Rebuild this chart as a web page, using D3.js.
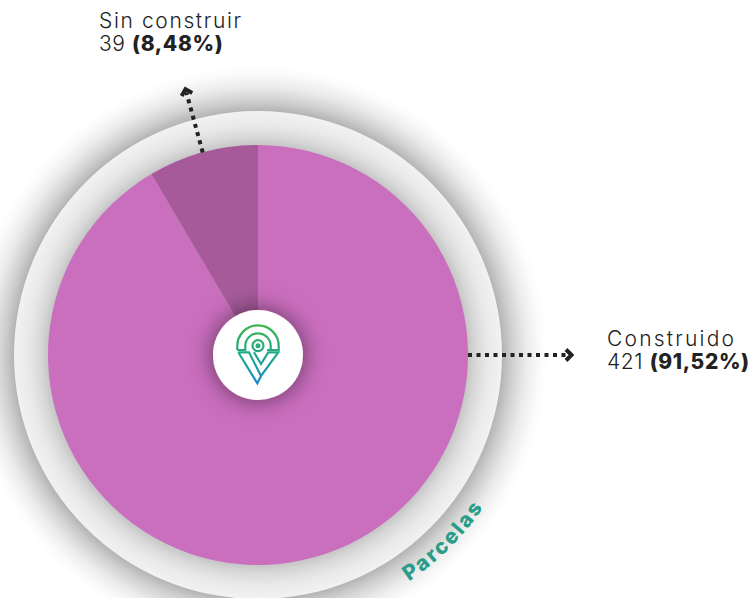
<!DOCTYPE html>
<html>
<head>
<meta charset="utf-8">
<script src="https://cdn.jsdelivr.net/npm/d3@7"></script>
<style>
  html, body { margin: 0; padding: 0; background: #fff; }
  svg { display: block; }
  text { font-family: "Inter", "Open Sans", sans-serif; fill: #222; }
</style>
</head>
<body>
<div id="chart"></div>
<script>
// Data
const categories = ['Construido', 'Sin construir'];
const values = [421, 39];
const percents = ['91,52%', '8,48%'];
const colors = ['#ca6ebe', '#a65a9a'];
const chartTitle = 'Parcelas';

const width = 752;
const height = 598;
const cx = 258;
const cy = 355;
const pieRadius = 210;
const discRadius = 244;
const shadowRadius = 290;
const holeRadius = 45;

const svg = d3.select('#chart').append('svg')
  .attr('width', width)
  .attr('height', height);

const defs = svg.append('defs');

// Radial fades for the two shadow bands, stops given as [radius, colour]
const addFade = (id, outer, stops) => {
  const grad = defs.append('radialGradient').attr('id', id);
  stops.forEach(s => {
    grad.append('stop')
      .attr('offset', s[0] / outer)
      .attr('stop-color', s[1]);
  });
};
addFade('outer-fade', shadowRadius, [[244, '#b4b4b4'], [254, '#cfcfcf'], [268, '#ebebeb'], [282, '#fbfbfb'], [290, '#ffffff']]);
addFade('ring-fade', discRadius, [[210, '#c6c6c6'], [218, '#d8d8d8'], [230, '#e9e9e9'], [244, '#f2f2f2']]);

const holeShadow = defs.append('filter')
  .attr('id', 'hole-shadow')
  .attr('x', '-60%').attr('y', '-60%')
  .attr('width', '220%').attr('height', '220%');
holeShadow.append('feDropShadow')
  .attr('dx', 0).attr('dy', 0)
  .attr('stdDeviation', 12)
  .attr('flood-color', '#000')
  .attr('flood-opacity', 0.55);

const logoGrad = defs.append('linearGradient')
  .attr('id', 'logo-grad')
  .attr('gradientUnits', 'userSpaceOnUse')
  .attr('x1', 0).attr('y1', -30).attr('x2', 0).attr('y2', 30);
logoGrad.append('stop').attr('offset', '0%').attr('stop-color', '#3cb54a');
logoGrad.append('stop').attr('offset', '50%').attr('stop-color', '#1fa98e');
logoGrad.append('stop').attr('offset', '100%').attr('stop-color', '#1b87c9');

const g = svg.append('g').attr('transform', `translate(${cx},${cy})`);

g.append('circle').attr('r', shadowRadius).attr('fill', 'url(#outer-fade)');
g.append('circle').attr('r', discRadius).attr('fill', 'url(#ring-fade)');

// Pie
const pie = d3.pie().sort(null).value(d => d);
const arc = d3.arc().innerRadius(0).outerRadius(pieRadius);
const arcs = pie(values);

g.append('g').selectAll('path')
  .data(arcs)
  .enter()
  .append('path')
  .attr('d', arc)
  .attr('fill', (d, i) => colors[i]);

// Leader lines
defs.append('marker')
  .attr('id', 'chevron')
  .attr('viewBox', '0 0 11 16')
  .attr('refX', 4).attr('refY', 8)
  .attr('markerWidth', 11).attr('markerHeight', 16)
  .attr('markerUnits', 'userSpaceOnUse')
  .attr('orient', 'auto')
  .append('path')
  .attr('d', 'M2,2.5 L7.5,8 L2,13.5')
  .attr('fill', 'none')
  .attr('stroke', '#222')
  .attr('stroke-width', 4);

const line = d3.line();
const midAngle = (arcs[1].startAngle + arcs[1].endAngle) / 2;
const polar = (r, a) => [r * Math.sin(a), -r * Math.cos(a)];

const leaders = [
  [[pieRadius, 0], [310, 0]],
  [polar(pieRadius, midAngle), polar(272, midAngle)]
];
g.selectAll('.leader')
  .data(leaders)
  .enter()
  .append('path')
  .attr('class', 'leader')
  .attr('d', line)
  .attr('fill', 'none')
  .attr('stroke', '#222')
  .attr('stroke-width', 4)
  .attr('stroke-dasharray', '4,4.5')
  .attr('marker-end', 'url(#chevron)');

// Labels
const labelPos = [[607, 346], [99, 28]];
const labelWidths = [127, 142];
categories.forEach((name, i) => {
  const label = svg.append('g').attr('transform', `translate(${labelPos[i][0]},${labelPos[i][1]})`);
  label.append('text')
    .attr('font-size', 21)
    .attr('font-weight', 300)
    .attr('textLength', labelWidths[i])
    .attr('lengthAdjust', 'spacing')
    .text(name);
  const second = label.append('text')
    .attr('y', 23)
    .attr('font-size', 21)
    .attr('font-weight', 300)
    .attr('letter-spacing', 0.6);
  second.append('tspan').text(values[i] + ' ');
  second.append('tspan').attr('font-weight', 800).text(`(${percents[i]})`);
});

// Centre circle and logo
g.append('circle')
  .attr('r', holeRadius)
  .attr('fill', '#fff')
  .attr('filter', 'url(#hole-shadow)');

const logo = g.append('g')
  .attr('fill', 'none')
  .attr('stroke', 'url(#logo-grad)')
  .attr('stroke-width', 2.2);
logo.append('path').attr('d', 'M-20.7,-5 V-9 A20.7,20.7 0 0 1 20.7,-9 V-5 H9');
logo.append('path').attr('d', 'M-20.7,-5 H-12.7 V-9 A12.7,12.7 0 0 1 12.7,-9 V-5');
logo.append('circle').attr('cy', -9.3).attr('r', 5.5);
logo.append('circle').attr('cy', -9.3).attr('r', 1.4);
logo.append('path').attr('d', 'M-19.7,-2.7 H-9 L3,21 L20.3,-2.7 H10.3 L3,9 L-4,-2.7');
logo.append('path').attr('d', 'M-19.7,-2.7 L-0.7,28.3 L3,21');

// Curved title
const titleRadius = 272;
const toRad = Math.PI / 180;
defs.append('path')
  .attr('id', 'title-path')
  .attr('d', `M${polar(titleRadius, 146.3 * toRad).join(',')} A${titleRadius},${titleRadius} 0 0 0 ${polar(titleRadius, 100 * toRad).join(',')}`);
g.append('text')
  .attr('font-size', 21)
  .attr('font-weight', 800)
  .attr('letter-spacing', 2.2)
  .style('fill', '#2a9d8a')
  .append('textPath')
  .attr('href', '#title-path')
  .text(chartTitle);
</script>
</body>
</html>
